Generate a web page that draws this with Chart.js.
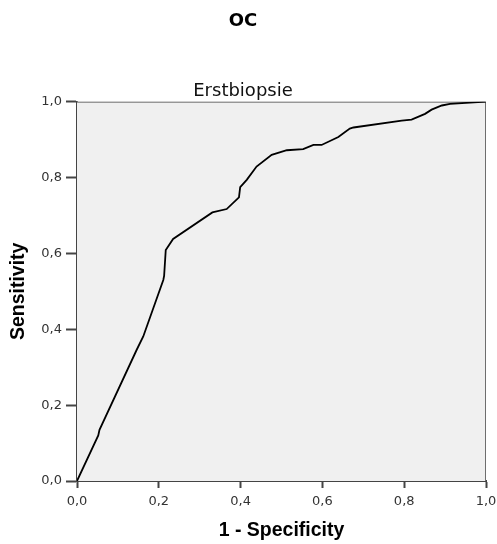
<!DOCTYPE html>
<html>
<head>
<meta charset="utf-8">
<script src="https://cdn.jsdelivr.net/npm/chart.js@4"></script>
<style>
  html, body { margin: 0; padding: 0; background: #fff; }
  #wrap { width: 497px; height: 544px; }
</style>
</head>
<body>
<div id="wrap"><canvas id="rocChart"></canvas></div>
<script>
// ROC curve points
var specComplement = [0, 0.052, 0.055, 0.146, 0.162, 0.211, 0.213, 0.217, 0.235, 0.331, 0.366, 0.396, 0.399, 0.415, 0.439, 0.476, 0.513, 0.553, 0.578, 0.598, 0.639, 0.667, 0.676, 0.794, 0.818, 0.851, 0.867, 0.892, 0.912, 1];
var sensitivity = [0, 0.12, 0.135, 0.346, 0.381, 0.530, 0.541, 0.609, 0.638, 0.708, 0.717, 0.748, 0.775, 0.794, 0.829, 0.860, 0.872, 0.875, 0.886, 0.886, 0.907, 0.929, 0.932, 0.950, 0.953, 0.968, 0.979, 0.990, 0.994, 1];
var tickValues = [0, 0.2, 0.4, 0.6, 0.8, 1.0];

var points = specComplement.map(function (x, i) {
    return { x: x, y: sensitivity[i] };
});

function commaTick(v) {
    return v.toFixed(1).replace('.', ',');
}

// grey plot background plus thin top/right frame
var plotFrame = {
    id: 'plotFrame',
    beforeDatasetsDraw: function (chart) {
        var a = chart.chartArea, c = chart.ctx;
        c.save();
        c.fillStyle = '#f0f0f0';
        c.fillRect(a.left, a.top, a.right - a.left, a.bottom - a.top);
        c.strokeStyle = '#6e6e6e';
        c.lineWidth = 1;
        c.beginPath();
        c.moveTo(a.left, a.top + 0.5);
        c.lineTo(a.right - 0.5, a.top + 0.5);
        c.lineTo(a.right - 0.5, a.bottom);
        c.stroke();
        c.restore();
    }
};

var ctx = document.getElementById('rocChart').getContext('2d');
var rocChart = new Chart(ctx, {
    type: 'scatter',
    data: {
        datasets: [{
            label: 'Erstbiopsie',
            data: points,
            showLine: true,
            borderColor: '#000',
            borderWidth: 1.8,
            pointRadius: 0,
            tension: 0,
            fill: false
        }]
    },
    options: {
        responsive: true,
        maintainAspectRatio: false,
        animation: false,
        layout: {
            padding: { left: 0, right: 11, top: 0, bottom: 0 }
        },
        plugins: {
            legend: { display: false },
            tooltip: { enabled: false },
            title: {
                display: true,
                text: 'OC',
                color: '#000',
                font: { family: 'DejaVu Sans', size: 18, weight: 'bold' },
                padding: { top: 11, bottom: 0 }
            },
            subtitle: {
                display: true,
                text: 'Erstbiopsie',
                color: '#111',
                font: { family: 'DejaVu Sans', size: 18, weight: 'normal' },
                padding: { top: 47.5, bottom: 0 }
            }
        },
        scales: {
            x: {
                type: 'linear',
                min: 0,
                max: 1,
                afterBuildTicks: function (s) {
                    s.ticks = tickValues.map(function (v) { return { value: v }; });
                },
                afterFit: function (s) {
                    s.height = 63;
                    s.paddingLeft = 0;
                    s.paddingRight = 0;
                },
                ticks: {
                    callback: commaTick,
                    color: '#333',
                    padding: 6,
                    maxRotation: 0,
                    font: { family: 'DejaVu Sans', size: 13 }
                },
                grid: {
                    drawOnChartArea: false,
                    drawTicks: true,
                    tickLength: 7,
                    tickWidth: 2,
                    tickColor: '#444'
                },
                border: { display: true, color: '#444', width: 2 },
                title: {
                    display: true,
                    text: '1 - Specificity',
                    color: '#000',
                    font: { family: 'Liberation Sans', size: 19.5, weight: 'bold' },
                    padding: { top: 0, bottom: 2 }
                }
            },
            y: {
                type: 'linear',
                min: 0,
                max: 1,
                afterBuildTicks: function (s) {
                    s.ticks = tickValues.map(function (v) { return { value: v }; });
                },
                afterFit: function (s) { s.width = 77; },
                ticks: {
                    callback: commaTick,
                    color: '#333',
                    padding: 4,
                    font: { family: 'DejaVu Sans', size: 13 }
                },
                grid: {
                    drawOnChartArea: false,
                    drawTicks: true,
                    tickLength: 11,
                    tickWidth: 2,
                    tickColor: '#444'
                },
                border: { display: true, color: '#444', width: 2 },
                title: {
                    display: true,
                    text: 'Sensitivity',
                    color: '#000',
                    font: { family: 'Liberation Sans', size: 19.5, weight: 'bold' },
                    padding: { top: 7, bottom: 0 }
                }
            }
        }
    },
    plugins: [plotFrame]
});
</script>
</body>
</html>
